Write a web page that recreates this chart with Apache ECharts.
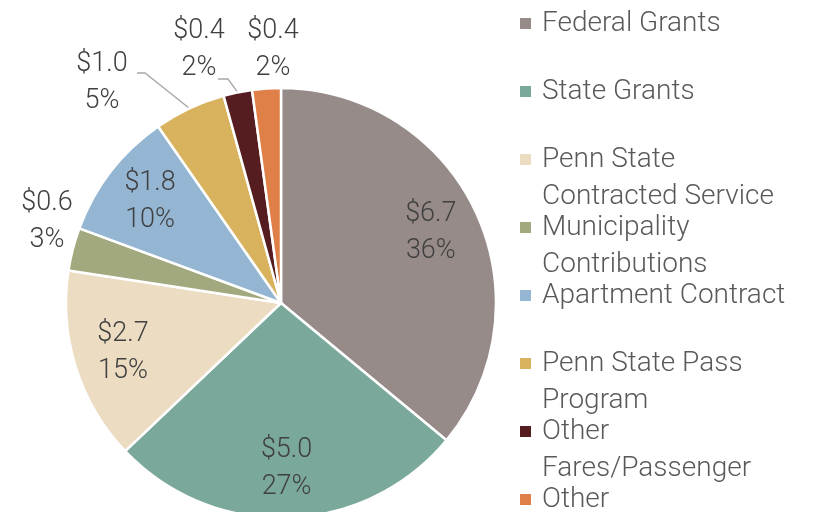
<!DOCTYPE html>
<html>
<head>
  <meta charset="utf-8">
  <title>Revenue sources</title>
  <script src="https://cdn.jsdelivr.net/npm/echarts@6/dist/echarts.min.js"></script>
</head>
<body style="margin:0">
  <div id="main" style="width: 814px;height:512px;"></div>
  <script type="text/javascript">
    // revenue by source, $ millions
    var categories = ['Federal Grants', 'State Grants', 'Penn State Contracted Service', 'Municipality Contributions',
      'Apartment Contract', 'Penn State Pass Program', 'Other Fares/Passenger', 'Other'];
    var values = [6.7, 5.0, 2.7, 0.6, 1.8, 1.0, 0.4, 0.4];
    // legend wording, wrapped the way the original wraps it
    var legendLines = [['Federal Grants'], ['State Grants'], ['Penn State', 'Contracted Service'],
      ['Municipality', 'Contributions'], ['Apartment Contract'], ['Penn State Pass', 'Program'],
      ['Other', 'Fares/Passenger'], ['Other']];
    var colors = ['#968b89', '#7aa89b', '#ebdcc2', '#a3a97f', '#94b6d3', '#d9b25d', '#561d20', '#de8048'];

    // pie geometry
    var cx = 281, cy = 303, R = 215;
    var innerLabelR = 0.77 * R;
    // labels of the thin slices sit outside the pie
    var outsideAt = { 3: [47, 222], 5: [102, 83], 6: [199, 50], 7: [273, 50] };
    var leaderStart = { 5: [[137, 73], [145, 73]], 6: [[218, 79], [228, 79]] };

    var total = values.reduce(function (a, b) { return a + b; }, 0);
    function midAngle(i) {
      var before = 0;
      for (var k = 0; k < i; k++) before += values[k];
      return (before + values[i] / 2) / total * 360;
    }
    function polar(r, deg) {
      var a = deg * Math.PI / 180;
      return [cx + r * Math.sin(a), cy - r * Math.cos(a)];
    }

    var pieData = categories.map(function (name, i) {
      var item = { name: name, value: values[i], itemStyle: { color: colors[i] } };
      if (leaderStart[i]) item.labelLine = { show: true };
      return item;
    });

    var myChart = echarts.init(document.getElementById('main'));
    myChart.setOption({
      animation: false,
      backgroundColor: '#ffffff',
      textStyle: { fontFamily: 'Roboto', fontWeight: 300 },
      legend: {
        orient: 'vertical',
        left: 518,
        top: -32,
        height: 700,
        padding: 0,
        itemGap: -43,
        itemWidth: 13,
        itemHeight: 13,
        icon: 'rect',
        selectedMode: false,
        data: categories,
        formatter: function (name) {
          var l = legendLines[categories.indexOf(name)];
          // empty first line keeps the marker level with the first text line
          return l.length === 1 ? '\n' + l[0] + '\n ' : '\n' + l.join('\n');
        },
        textStyle: { fontSize: 28, fontWeight: 300, lineHeight: 37, color: '#595959', padding: [0, 0, 0, 5] }
      },
      series: [{
        type: 'pie',
        center: [cx, cy],
        radius: R,
        startAngle: 90,
        clockwise: true,
        avoidLabelOverlap: false,
        silent: true,
        itemStyle: { borderColor: '#ffffff', borderWidth: 2.5 },
        label: {
          show: true,
          position: 'outside',
          fontSize: 27,
          fontWeight: 300,
          lineHeight: 37,
          color: '#404040',
          formatter: function (p) { return '$' + p.value.toFixed(1) + '\n' + p.percent.toFixed(0) + '%'; }
        },
        labelLine: { show: false, lineStyle: { color: '#a6a6a6', width: 1.3 } },
        labelLayout: function (params) {
          var i = params.dataIndex;
          var mid = midAngle(i);
          var p = outsideAt[i] || polar(innerLabelR, mid);
          var res = { x: p[0], y: p[1], align: 'center', verticalAlign: 'middle' };
          if (leaderStart[i]) {
            res.labelLinePoints = [leaderStart[i][0], leaderStart[i][1], polar(R, mid)];
          }
          return res;
        },
        data: pieData
      }]
    });
  </script>
</body>
</html>
